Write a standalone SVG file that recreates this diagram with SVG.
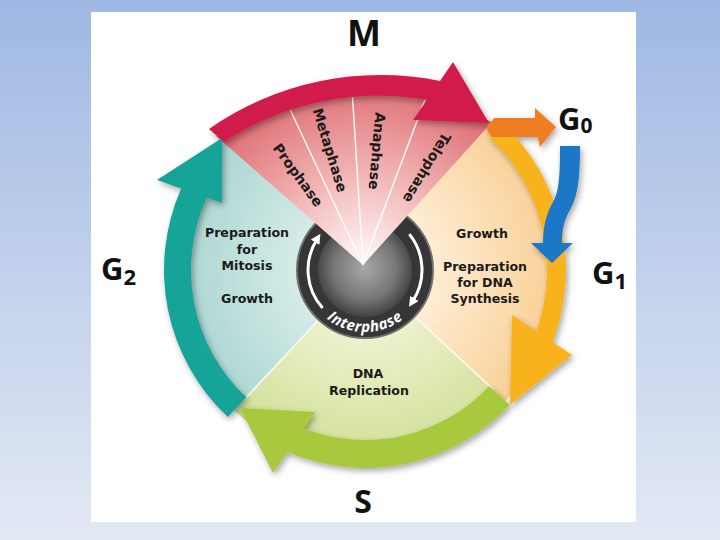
<svg xmlns="http://www.w3.org/2000/svg" width="720" height="540" viewBox="0 0 720 540">
<defs>
  <linearGradient id="bg" x1="0" y1="0" x2="0" y2="1">
    <stop offset="0" stop-color="#9fb8e3"/>
    <stop offset="1" stop-color="#e3e9f4"/>
  </linearGradient>
  <radialGradient id="gM" gradientUnits="userSpaceOnUse" cx="363" cy="265" r="185">
    <stop offset="0.08" stop-color="#fdf0f0"/>
    <stop offset="0.5" stop-color="#f2b4b4"/>
    <stop offset="1" stop-color="#de6f74"/>
  </radialGradient>
  <radialGradient id="gG1" gradientUnits="userSpaceOnUse" cx="365" cy="270" r="192">
    <stop offset="0.3" stop-color="#ffefd9"/>
    <stop offset="1" stop-color="#f9d096"/>
  </radialGradient>
  <radialGradient id="gS" gradientUnits="userSpaceOnUse" cx="365" cy="270" r="192">
    <stop offset="0.3" stop-color="#eef3d2"/>
    <stop offset="1" stop-color="#d2e097"/>
  </radialGradient>
  <radialGradient id="gG2" gradientUnits="userSpaceOnUse" cx="365" cy="270" r="192">
    <stop offset="0.3" stop-color="#d9edea"/>
    <stop offset="1" stop-color="#a8d5d0"/>
  </radialGradient>
  <radialGradient id="gDisc" gradientUnits="userSpaceOnUse" cx="365" cy="268" r="48">
    <stop offset="0" stop-color="#a8a8a8"/>
    <stop offset="0.65" stop-color="#777"/>
    <stop offset="1" stop-color="#454545"/>
  </radialGradient>
  <filter id="sh" x="-30%" y="-30%" width="160%" height="160%">
    <feDropShadow dx="2" dy="3" stdDeviation="3" flood-color="#000" flood-opacity="0.35"/>
  </filter>
  <marker id="wh" markerUnits="userSpaceOnUse" markerWidth="10" markerHeight="10" viewBox="0 0 10 10" refX="3" refY="5" orient="auto">
    <path d="M0,0 L10,5 L0,10 z" fill="#fff"/>
  </marker>
  <path id="ipath" d="M308.8,296.2 A62 62 0 0 0 421.2,296.2"/>
  <style>
    .lbl{font-family:"DejaVu Sans","Liberation Sans",sans-serif;font-weight:700;font-size:12.6px;fill:#1a1a1a;text-anchor:middle}
    .ph{font-family:"DejaVu Sans","Liberation Sans",sans-serif;font-weight:700;font-size:14px;fill:#1a1a1a;text-anchor:middle;dominant-baseline:central}
    .big{font-family:"Open Sans","Liberation Sans",sans-serif;font-weight:700;fill:#111}
    .div{stroke:#fff;stroke-width:1.5;opacity:0.85;fill:none}
  </style>
</defs>

<rect x="0" y="0" width="720" height="540" fill="url(#bg)"/>
<rect x="91" y="12" width="545" height="510" fill="#fff"/>

<!-- pastel sectors -->
<g id="node-G2-sector"><path d="M365,270 L234.1,410.4 A192 192 0 0 1 231.6,131.9 Z" fill="url(#gG2)"/></g>
<g id="node-S-sector"><path d="M365,270 L505.4,400.9 A192 192 0 0 1 234.1,410.4 Z" fill="url(#gS)"/></g>
<g id="node-G1-sector"><path d="M365,270 L480.5,116.7 A192 192 0 0 1 505.4,400.9 Z" fill="url(#gG1)"/></g>
<line class="div" x1="317.3" y1="321.2" x2="245.7" y2="398"/>
<line class="div" x1="416.2" y1="317.7" x2="493" y2="389.4"/>

<!-- interphase disc -->
<g id="node-interphase">
  <circle cx="365" cy="270" r="68" fill="#363636" stroke="#6f6f6f" stroke-width="2"/>
  <circle cx="365" cy="270" r="47" fill="url(#gDisc)"/>
  <path d="M322.6,308.1 A57 57 0 0 1 316.7,239.8" fill="none" stroke="#fff" stroke-width="3" marker-end="url(#wh)"/>
  <path d="M409.3,234.1 A57 57 0 0 1 412.8,301" fill="none" stroke="#fff" stroke-width="3" marker-end="url(#wh)"/>
  <text font-family="'Open Sans','Liberation Sans',sans-serif" font-weight="700" font-style="italic" font-size="15" fill="#fff" letter-spacing="0.6"><textPath href="#ipath" startOffset="50%" text-anchor="middle">Interphase</textPath></text>
</g>

<!-- mitosis wedge -->
<g id="node-M-wedge">
  <path d="M363,265 L216,136 A290 290 0 0 1 492,122 Z" fill="url(#gM)"/>
  <path d="M363,265 L287,103 M363,265 L352,88 M363,265 L426,97" stroke="#fff" stroke-width="1.5" opacity="0.9" fill="none"/>
  <text class="ph" transform="translate(298,175) rotate(54)">Prophase</text>
  <text class="ph" transform="translate(330,150) rotate(73)">Metaphase</text>
  <text class="ph" transform="translate(377,151) rotate(95)">Anaphase</text>
  <text class="ph" transform="translate(427,168) rotate(121)">Telophase</text>
</g>

<!-- connectors (cycle arrows) -->
<g id="connectors" filter="url(#sh)">
  <path id="arrow-G2" d="M227.9,417 A201 201 0 0 1 181.2,188.6 L157,180 L222,138 L222,203 L206.8,197.6 A174 174 0 0 0 246.3,397.3 Z" fill="#17a398"/>
  <path id="arrow-S" d="M509.8,405 A198 198 0 0 1 287.4,452.1 L273,473 L240,408 L315,412 L303.6,428.5 A170 170 0 0 0 489.3,385.9 Z" fill="#a8c83c"/>
  <path id="arrow-G1" d="M502.1,123 A201 201 0 0 1 552.6,342.1 L572,355 L510,405 L512,315 L536.4,331.3 A182 182 0 0 0 489.1,136.9 Z" fill="#f8b31b"/>
  <path id="arrow-M" d="M209,129 A300 300 0 0 1 440,81 L453,62 L489,123 L413,120 L427,100 A280 280 0 0 0 224,142 Z" fill="#d11f4b"/>
  <path id="arrow-G0" d="M486,128 L494,118 L535,118 L535,108 L556,127 L540,147 L538,137 L492,137 Z" fill="#ef7d22"/>
  <path id="arrow-G0-G1" d="M560,146 L580,146 C580,178 578,196 570,210 C564,220 562,230 562,243 L573,243 L552,263 L531,243 L543,243 C543,226 547,212 553,202 C559,192 560,176 560,146 Z" fill="#1e77c6"/>
</g>

<!-- labels -->
<g id="node-M">
  <text class="big" x="364" y="46" font-size="36" text-anchor="middle">M</text>
</g>
<g id="node-G0">
  <text class="big" x="558" y="130" font-size="31">G<tspan font-size="21" dy="3">0</tspan></text>
</g>
<g id="node-G1">
  <text class="big" x="592" y="284" font-size="31">G<tspan font-size="22" dy="5">1</tspan></text>
  <text class="lbl" x="482" y="238">Growth</text>
  <text class="lbl" x="485" y="271">Preparation</text>
  <text class="lbl" x="485" y="287">for DNA</text>
  <text class="lbl" x="485" y="303">Synthesis</text>
</g>
<g id="node-S">
  <text class="big" x="363" y="513" font-size="32" text-anchor="middle">S</text>
  <text class="lbl" x="368" y="378">DNA</text>
  <text class="lbl" x="369" y="395">Replication</text>
</g>
<g id="node-G2">
  <text class="big" x="101" y="280" font-size="31">G<tspan font-size="22" dy="5">2</tspan></text>
  <text class="lbl" x="247" y="237">Preparation</text>
  <text class="lbl" x="247" y="254">for</text>
  <text class="lbl" x="247" y="270">Mitosis</text>
  <text class="lbl" x="247" y="303">Growth</text>
</g>
</svg>
